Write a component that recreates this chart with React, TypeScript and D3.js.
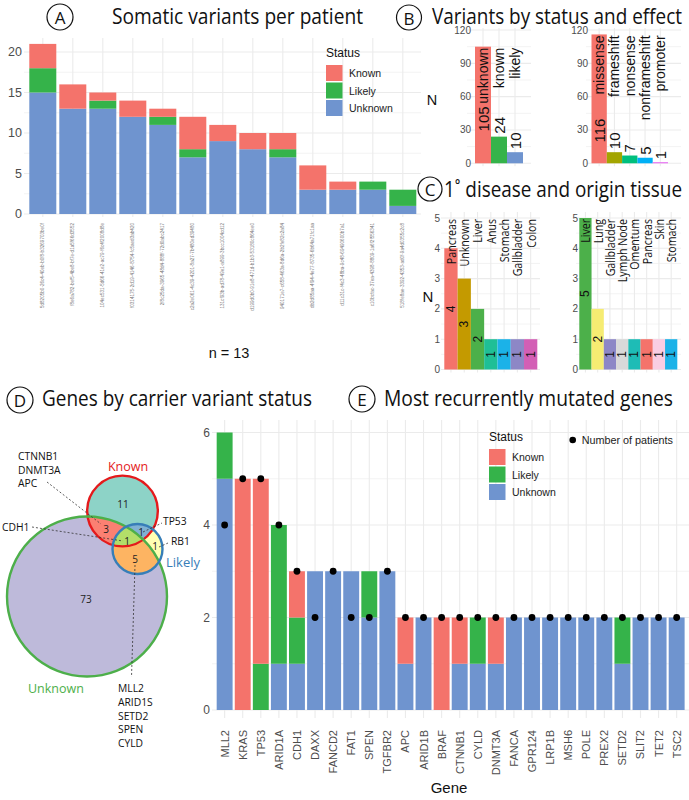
import React from "react";
import * as d3 from "d3";

// ---------- data ----------
const statusKeys = ["Known", "Likely", "Unknown"];
const statusColors = ["#f4736b", "#35b34a", "#6f94cf"];

const patientIds = [
  "5d8205b0-26c4-40eb-b0f8-b3269703be0f",
  "f8e6a782-bef5-4be8-bf7e-d1a5f66d3552",
  "104ec531-5d66-41e2-ac79-f6c4f2008d8e",
  "f0314175-2d19-4146-8754-fc5aed3ab420",
  "2f8c25da-3965-48d4-888f-72d0abc2417",
  "c2a2e061-4c39-4201-8a27-7b480ed39480",
  "131cf93b-ad78-49e1-a899-3bcc1004cd12",
  "d199d0b0-91e8-471d-b1b3-53180c864ee0",
  "940171e7-c658-463a-8d6a-2b2fe82c2a84",
  "db2d85aa-4f94-4e77-8735-6b64a71fc1aa",
  "d11c31c-f4c3-48ba-9c48-69490600b7a1",
  "c10bcfac-37ea-4398-8809-1a6f2f556341",
  "518fe8ae-3392-4353-ad0f-9a4d0355c2c8",
];
const patientKnown = [3, 3, 1, 2, 1, 4, 2, 2, 2, 3, 1, 0, 0];
const patientLikely = [3, 0, 1, 0, 1, 1, 0, 0, 1, 0, 0, 1, 2];
const patientUnknown = [15, 13, 13, 12, 11, 7, 9, 8, 7, 3, 3, 3, 1];
const patientTicks = [0, 5, 10, 15, 20];

const statusLevels = ["unknown", "known", "likely"];
const statusCounts = [105, 24, 10];
const statusLevelColors = ["#f4736b", "#35b34a", "#6f94cf"];
const effectLevels = ["missense", "frameshift", "nonsense", "nonframeshift", "promoter"];
const effectCounts = [116, 10, 7, 5, 1];
const effectColors = ["#f4736b", "#a3a500", "#00bf7d", "#00b0f6", "#e76bf3"];
const countTicks = [0, 30, 60, 90, 120];

const diseaseLevels = ["Pancreas", "Unknown", "Liver", "Anus", "Stomach", "Gallbladder", "Colon"];
const diseaseCounts = [4, 3, 2, 1, 1, 1, 1];
const tissueLevels = ["Liver", "Lung", "Gallbladder", "Lymph Node", "Omentum", "Pancreas", "Skin", "Stomach"];
const tissueCounts = [5, 2, 1, 1, 1, 1, 1, 1];
const tissueColors: Record<string, string> = {
  Pancreas: "#f4736b", Unknown: "#c49a00", Liver: "#4cb04a", Anus: "#1fbf96",
  Stomach: "#1bb2e8", Gallbladder: "#8d87c6", Colon: "#d35fb5", Lung: "#f6ec72",
  "Lymph Node": "#d9d9d9", Omentum: "#1ebcb6", Skin: "#f9cde3",
};
const tissueTicks = [0, 1, 2, 3, 4, 5];

// venn regions (which sets, how many genes)
const vennRegionSets = [["Known"], ["Known", "Unknown"], ["Known", "Likely"], ["Known", "Likely", "Unknown"], ["Likely"], ["Likely", "Unknown"], ["Unknown"]];
const vennRegionCounts = [11, 3, 1, 1, 1, 5, 73];
const vennRegionColors = ["#8dd3c7", "#fb8072", "#80b1d3", "#b3de69", "#ffffb3", "#fdb462", "#bebada"];
const vennSetColors: Record<string, string> = { Known: "#e41a1c", Likely: "#377eb8", Unknown: "#4daf4a" };

const genes = ["MLL2", "KRAS", "TP53", "ARID1A", "CDH1", "DAXX", "FANCD2", "FAT1", "SPEN", "TGFBR2", "APC", "ARID1B", "BRAF", "CTNNB1", "CYLD", "DNMT3A", "FANCA", "GPR124", "LRP1B", "MSH6", "POLE", "PREX2", "SETD2", "SLIT2", "TET2", "TSC2"];
const geneKnown = [0, 5, 4, 0, 1, 0, 0, 0, 0, 0, 1, 0, 2, 1, 0, 1, 0, 0, 0, 0, 0, 0, 0, 0, 0, 0];
const geneLikely = [1, 0, 1, 3, 1, 0, 0, 0, 1, 0, 0, 0, 0, 0, 1, 0, 0, 0, 0, 0, 0, 0, 1, 0, 0, 0];
const geneUnknown = [5, 0, 0, 1, 1, 3, 3, 3, 2, 3, 1, 2, 0, 1, 1, 1, 2, 2, 2, 2, 2, 2, 1, 2, 2, 2];
const genePatients = [4, 5, 5, 4, 3, 2, 3, 2, 2, 3, 2, 2, 2, 2, 2, 2, 2, 2, 2, 2, 2, 2, 2, 2, 2, 2];
const geneTicks = [0, 2, 4, 6];

// ---------- style ----------
const SANS = "'Liberation Sans', Arial, Helvetica, sans-serif";
const HUM = "'Open Sans', 'Noto Sans', sans-serif";
const GRID = "#ebebeb";
const AXT = "#4d4d4d";

function PanelTag({ cx, cy, letter, r = 13 }: any) {
  return (
    <g>
      <circle cx={cx} cy={cy} r={r} fill="none" stroke="#111" strokeWidth={1.2} />
      <text x={cx} y={cy + 0.5} textAnchor="middle" dominantBaseline="central" fontFamily={HUM} fontSize={17} fill="#111">{letter}</text>
    </g>
  );
}

function Title({ x, y, width, text }: any) {
  return (
    <text x={x} y={y} fontFamily={HUM} fontSize={21} fill="#111" textLength={width} lengthAdjust="spacingAndGlyphs">{text}</text>
  );
}

function VText({ x, y, anchor, size, family, squash = 1, fill = "#111", children }: any) {
  return (
    <text transform={`translate(${x},${y}) rotate(-90) scale(${squash},1)`} textAnchor={anchor} dominantBaseline="central" fontSize={size} fontFamily={family} fill={fill}>{children}</text>
  );
}

function StatusLegend({ x, y }: any) {
  return (
    <g fontFamily={SANS}>
      <text x={x} y={y} fontSize={12} fill="#111">Status</text>
      {statusKeys.map((k, i) => (
        <g key={k}>
          <rect x={x} y={y + 8 + i * 17.5} width={16.5} height={16} fill={statusColors[i]} />
          <text x={x + 23} y={y + 16 + i * 17.5} dominantBaseline="central" fontSize={10.5} fill="#222">{k}</text>
        </g>
      ))}
    </g>
  );
}

function StackPanel({ cats, known, likely, unknown, x, y, top, bottom, left, right, ticks, minor, tickX, tickSize }: any) {
  const rows = cats.map((c: string, i: number) => ({ cat: c, Known: known[i], Likely: likely[i], Unknown: unknown[i] }));
  const series = d3.stack<any>().keys(["Unknown", "Likely", "Known"])(rows);
  const color = (k: string) => statusColors[statusKeys.indexOf(k)];
  return (
    <g>
      {minor.map((t: number) => <line key={"mi" + t} x1={left} x2={right} y1={y(t)} y2={y(t)} stroke={GRID} strokeWidth={0.6} />)}
      {ticks.map((t: number) => <line key={"ma" + t} x1={left} x2={right} y1={y(t)} y2={y(t)} stroke={GRID} strokeWidth={1.1} />)}
      {cats.map((c: string) => <line key={"v" + c} x1={x(c) + x.bandwidth() / 2} x2={x(c) + x.bandwidth() / 2} y1={top} y2={bottom} stroke={GRID} strokeWidth={1.1} />)}
      {series.map((s: any) => (
        <g key={s.key} fill={color(s.key)}>
          {s.map((d: any) => d[1] > d[0] ? (
            <rect key={d.data.cat} x={x(d.data.cat)} width={x.bandwidth()} y={y(d[1])} height={y(d[0]) - y(d[1])} />
          ) : null)}
        </g>
      ))}
      {ticks.map((t: number) => (
        <text key={"tl" + t} x={tickX} y={y(t)} textAnchor="end" dominantBaseline="central" fontFamily={SANS} fontSize={tickSize} fill={AXT}>{t}</text>
      ))}
    </g>
  );
}

function CountPanel({ levels, counts, colors, band, grid, y, ticks, tickX, top, nameAt, nameSize, nameFont, nameSquash, numAt, numAnchor, numSize, tickSize }: any) {
  const x = d3.scaleBand().domain(levels).range(band).padding(0);
  const bw = x.bandwidth();
  const minor = ticks.slice(1).map((t: number, i: number) => (t + ticks[i]) / 2);
  const y0 = y(0);
  return (
    <g>
      {minor.map((t: number) => <line key={"mi" + t} x1={grid[0]} x2={grid[1]} y1={y(t)} y2={y(t)} stroke={GRID} strokeWidth={0.6} />)}
      {ticks.map((t: number) => <line key={"ma" + t} x1={grid[0]} x2={grid[1]} y1={y(t)} y2={y(t)} stroke={GRID} strokeWidth={1.1} />)}
      {levels.map((l: string) => <line key={"v" + l} x1={x(l)! + bw / 2} x2={x(l)! + bw / 2} y1={top} y2={y0 + 3} stroke={GRID} strokeWidth={1.1} />)}
      {levels.map((l: string, i: number) => (
        <rect key={"b" + l} x={x(l)} width={bw} y={y(counts[i])} height={y0 - y(counts[i])} fill={colors[i]} />
      ))}
      {ticks.map((t: number) => (
        <text key={"tl" + t} x={tickX} y={y(t)} textAnchor="end" dominantBaseline="central" fontFamily={SANS} fontSize={tickSize} fill={AXT}>{t}</text>
      ))}
      {levels.map((l: string) => (
        <VText key={"n" + l} x={x(l)! + bw / 2} y={y(nameAt) + 1} anchor="end" size={nameSize} family={nameFont} squash={nameSquash}>{l}</VText>
      ))}
      {levels.map((l: string, i: number) => (
        <VText key={"c" + l} x={x(l)! + bw / 2} y={numAt(counts[i])} anchor={numAnchor} size={numSize} family={SANS}>{counts[i]}</VText>
      ))}
    </g>
  );
}

function Venn() {
  const setSize = (s: string) => d3.sum(vennRegionSets.map((r, i) => (r.includes(s) ? vennRegionCounts[i] : 0)));
  const r = d3.scaleSqrt().domain([0, setSize("Unknown")]).range([0, 80]);
  const ctr: Record<string, [number, number]> = { Known: [122.5, 511], Likely: [137.5, 549], Unknown: [87, 596.5] };
  const circ = (s: string, extra: any = {}) => <circle cx={ctr[s][0]} cy={ctr[s][1]} r={r(setSize(s))} {...extra} />;
  // region label positions
  const labelPos: [number, number][] = [[123, 504], [106, 529], [141, 532], [127, 541], [155, 546], [135, 559], [86, 599]];
  return (
    <g>
      <defs>
        <clipPath id="cKnown">{circ("Known")}</clipPath>
        <clipPath id="cLikely">{circ("Likely")}</clipPath>
        <clipPath id="cUnknown">{circ("Unknown")}</clipPath>
      </defs>
      {circ("Unknown", { fill: vennRegionColors[6] })}
      {circ("Known", { fill: vennRegionColors[0] })}
      {circ("Likely", { fill: vennRegionColors[4] })}
      <g clipPath="url(#cUnknown)">{circ("Known", { fill: vennRegionColors[1] })}</g>
      <g clipPath="url(#cUnknown)">{circ("Likely", { fill: vennRegionColors[5] })}</g>
      <g clipPath="url(#cKnown)">{circ("Likely", { fill: vennRegionColors[2] })}</g>
      <g clipPath="url(#cUnknown)"><g clipPath="url(#cKnown)">{circ("Likely", { fill: vennRegionColors[3] })}</g></g>
      {circ("Known", { fill: "none", stroke: vennSetColors.Known, strokeWidth: 2.4 })}
      {circ("Unknown", { fill: "none", stroke: vennSetColors.Unknown, strokeWidth: 2.4 })}
      {circ("Likely", { fill: "none", stroke: vennSetColors.Likely, strokeWidth: 2.4 })}
      {vennRegionCounts.map((n, i) => (
        <text key={i} x={labelPos[i][0]} y={labelPos[i][1]} textAnchor="middle" dominantBaseline="central" fontFamily={HUM} fontSize={10} fill="#222">{n}</text>
      ))}
      <text x={128} y={466} textAnchor="middle" dominantBaseline="central" fontFamily={HUM} fontSize={12.5} fill={vennSetColors.Known}>Known</text>
      <text x={166} y={562} dominantBaseline="central" fontFamily={HUM} fontSize={13} fill={vennSetColors.Likely}>Likely</text>
      <text x={28} y={688} dominantBaseline="central" fontFamily={HUM} fontSize={12.5} fill={vennSetColors.Unknown}>Unknown</text>
      <g stroke="#333" strokeWidth={0.8} strokeDasharray="2,2" fill="none">
        <line x1={47} y1={482} x2={101} y2={524} />
        <line x1={32} y1={527} x2={123} y2={541} />
        <line x1={143} y1={532} x2={162} y2={523} />
        <line x1={159} y1={547} x2={168} y2={543} />
        <line x1={135} y1={565} x2={131.5} y2={677} />
      </g>
      <g fontFamily={HUM} fontSize={10.3} fill="#111">
        {["CTNNB1", "DNMT3A", "APC"].map((g, i) => <text key={g} x={18} y={456 + i * 13.7} dominantBaseline="central">{g}</text>)}
        <text x={2} y={527} dominantBaseline="central">CDH1</text>
        <text x={163} y={521} dominantBaseline="central">TP53</text>
        <text x={171} y={541} dominantBaseline="central">RB1</text>
        {["MLL2", "ARID1S", "SETD2", "SPEN", "CYLD"].map((g, i) => <text key={g} x={118} y={688 + i * 13.8} dominantBaseline="central">{g}</text>)}
      </g>
    </g>
  );
}

export default function App() {
  const xA = d3.scaleBand().domain(patientIds).range([27.8, 417.8]).paddingInner(0.1).paddingOuter(0.05);
  const yA = d3.scaleLinear().domain([0, 20]).range([214, 52]);
  const xE = d3.scaleBand().domain(genes).range([215.6, 685.7]).paddingInner(0.12).paddingOuter(0.06);
  const yE = d3.scaleLinear().domain([0, 6]).range([710, 432.5]);
  const yB = d3.scaleLinear().domain([0, 120]).range([163.3, 30]);
  const yC = d3.scaleLinear().domain([0, 5]).range([369.5, 218]);

  return (
    <svg width={689} height={800} style={{ position: "absolute", left: 0, top: 0, background: "#fff" }}>
      <rect width={689} height={800} fill="#fff" />

      {/* A */}
      <PanelTag cx={60} cy={17} letter="A" />
      <Title x={112} y={23.5} width={251} text="Somatic variants per patient" />
      <StackPanel cats={patientIds} known={patientKnown} likely={patientLikely} unknown={patientUnknown}
        x={xA} y={yA} top={38} bottom={217} left={24} right={421}
        ticks={patientTicks} minor={[2.5, 7.5, 12.5, 17.5]} tickX={22} tickSize={12.5} />
      {patientIds.map((p) => (
        <VText key={p} x={xA(p)! + xA.bandwidth() / 2} y={223} anchor="end" size={4.6} family={SANS} fill="#777">{p}</VText>
      ))}
      <text x={229} y={357.5} textAnchor="middle" fontFamily={SANS} fontSize={14.5} fill="#111">n = 13</text>
      <StatusLegend x={326} y={57} />

      {/* B */}
      <PanelTag cx={409} cy={17.5} letter="B" r={12.5} />
      <Title x={432} y={23.5} width={250} text="Variants by status and effect" />
      <text x={432} y={100} textAnchor="middle" dominantBaseline="central" fontFamily={SANS} fontSize={14.5} fill="#111">N</text>
      <CountPanel levels={statusLevels} counts={statusCounts} colors={statusLevelColors} band={[475, 523]} grid={[467, 531]}
        y={yB} ticks={countTicks} tickX={471} top={28} nameAt={105} nameSize={14} nameFont={SANS} nameSquash={1}
        numAt={(n: number) => yB(Math.min(n, 26)) - 3} numAnchor="start" numSize={15} tickSize={10} />
      <CountPanel levels={effectLevels} counts={effectCounts} colors={effectColors} band={[591.5, 668]} grid={[586, 681]}
        y={yB} ticks={countTicks} tickX={588} top={28} nameAt={116} nameSize={14} nameFont={SANS} nameSquash={1}
        numAt={(n: number) => yB(Math.min(n, 16)) - 3} numAnchor="start" numSize={15} tickSize={10} />

      {/* C */}
      <PanelTag cx={430} cy={189} letter="C" r={12} />
      <Title x={444} y={197} width={238} text="1˚ disease and origin tissue" />
      <text x={428} y={296} textAnchor="middle" dominantBaseline="central" fontFamily={SANS} fontSize={15} fill="#111">N</text>
      <CountPanel levels={diseaseLevels} counts={diseaseCounts} colors={diseaseLevels.map((d) => tissueColors[d])} band={[444.3, 537.3]} grid={[441, 540]}
        y={yC} ticks={tissueTicks} tickX={440} top={212} nameAt={5} nameSize={12.5} nameFont={HUM} nameSquash={0.85}
        numAt={(n: number) => yC(n / 2)} numAnchor="middle" numSize={12} tickSize={10} />
      <CountPanel levels={tissueLevels} counts={tissueCounts} colors={tissueLevels.map((d) => tissueColors[d])} band={[579.3, 677.3]} grid={[576, 681]}
        y={yC} ticks={tissueTicks} tickX={578} top={212} nameAt={5} nameSize={12.5} nameFont={HUM} nameSquash={0.85}
        numAt={(n: number) => yC(n / 2)} numAnchor="middle" numSize={12} tickSize={10} />

      {/* D */}
      <PanelTag cx={20} cy={400} letter="D" />
      <Title x={42} y={406} width={270} text="Genes by carrier variant status" />
      <Venn />

      {/* E */}
      <PanelTag cx={362} cy={399} letter="E" />
      <Title x={384} y={406} width={289} text="Most recurrently mutated genes" />
      <StackPanel cats={genes} known={geneKnown} likely={geneLikely} unknown={geneUnknown}
        x={xE} y={yE} top={420} bottom={718} left={212} right={689}
        ticks={geneTicks} minor={[1, 3, 5]} tickX={210} tickSize={12} />
      {genes.map((g, i) => (
        <circle key={"d" + g} cx={xE(g)! + xE.bandwidth() / 2} cy={yE(genePatients[i])} r={3.4} fill="#000" />
      ))}
      {genes.map((g) => (
        <VText key={"l" + g} x={xE(g)! + xE.bandwidth() / 2} y={730} anchor="end" size={11} family={SANS} fill={AXT}>{g}</VText>
      ))}
      <text x={449} y={793} textAnchor="middle" fontFamily={SANS} fontSize={15} fill="#111">Gene</text>
      <StatusLegend x={489} y={441} />
      <circle cx={572.7} cy={440} r={3.3} fill="#000" />
      <text x={581.7} y={440} dominantBaseline="central" fontFamily={SANS} fontSize={10.8} fill="#222">Number of patients</text>
    </svg>
  );
}
